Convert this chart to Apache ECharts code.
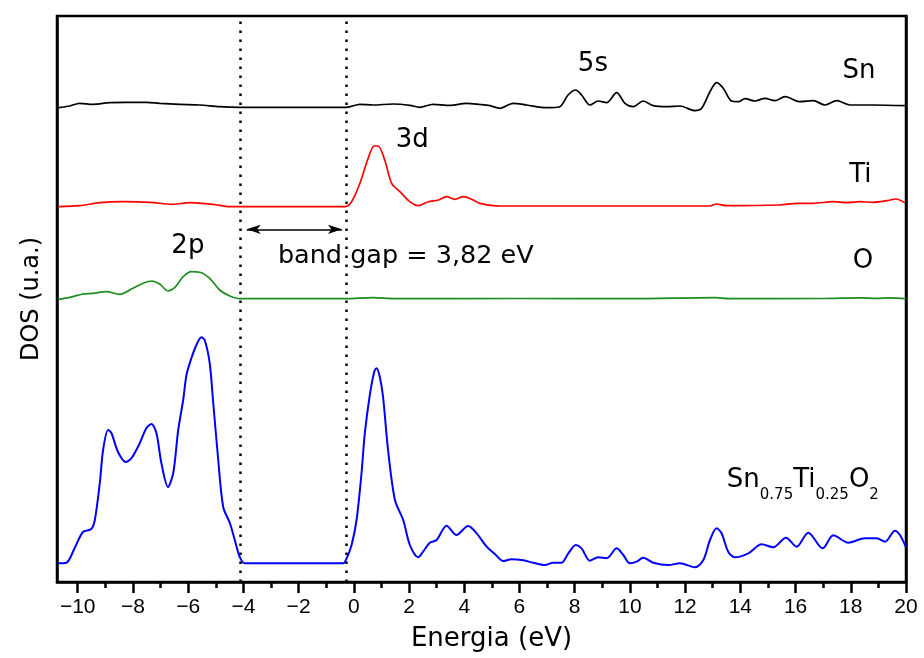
<!DOCTYPE html>
<html>
<head>
<meta charset="utf-8">
<script src="https://cdn.jsdelivr.net/npm/echarts@6/dist/echarts.min.js"></script>
<style>
  html, body { margin: 0; padding: 0; background: #fff; }
  #chart { width: 924px; height: 658px; }
</style>
</head>
<body>
<div id="chart"></div>
<script>
// DOS parcial (Sn, Ti, O) e total de Sn0.75Ti0.25O2 — curvas deslocadas verticalmente
// pontos [energia (eV), DOS (u.a., com deslocamento)]
const dosSn = [[-10.7,474.3],[-10.29,476],[-9.93,478.7],[-9.45,477.7],[-8.84,479.3],[-8.24,479.7],[-7.51,479.7],[-7.03,478.7],[-6.3,477.7],[-5.58,477],[-4.86,475.3],[-4.13,474.7],[-0.26,474.7],[0.22,477.7],[0.7,477],[1.42,478],[2.03,476.7],[2.39,474.7],[2.87,477.7],[3.48,476.7],[4.08,478.7],[4.57,477.5],[4.93,476.3],[5.29,473.7],[5.77,478.7],[6.26,477],[6.98,474.3],[7.46,475.3],[7.76,487],[8.03,492],[8.25,487],[8.55,477],[8.85,481],[9.16,479.3],[9.52,489.3],[9.82,478.7],[10.12,475.3],[10.48,481],[10.85,476.3],[11.33,475.3],[11.81,476],[12.36,471.3],[12.6,473.7],[12.9,490.3],[13.14,499.3],[13.38,493.7],[13.68,481],[13.93,480.3],[14.17,483.3],[14.53,481],[14.89,483.7],[15.25,481.3],[15.62,485.3],[16.16,480.3],[16.64,481.3],[17.07,477],[17.49,481.3],[17.97,477],[18.82,477],[19.96,476.3]]
const dosTi = [[-10.7,375.3],[-9.93,376.3],[-9.2,379.3],[-8.36,380.3],[-7.39,379.7],[-6.55,377.7],[-5.94,379.3],[-5.1,377.7],[-4.49,375.3],[-0.33,375.3],[-0.08,380.3],[0.22,398.7],[0.52,423.7],[0.74,436],[0.88,436],[1.12,422],[1.37,398.7],[1.67,390.3],[2.03,380.3],[2.33,376.3],[2.7,380.3],[3.06,382],[3.36,385.3],[3.66,382.7],[3.96,385.3],[4.32,382],[4.57,378.7],[5.29,376],[12.9,376],[13.14,378],[13.5,376.3],[15.43,377],[16.04,378.7],[16.64,378.7],[17.37,380.3],[17.85,379.3],[18.33,380.3],[18.82,379.7],[19.3,381.3],[19.64,383],[19.96,379.3]]
const dosO = [[-10.7,282.7],[-10.29,284.7],[-9.81,288],[-9.45,288.7],[-8.96,290.3],[-8.48,287.7],[-8.0,293.7],[-7.63,298.7],[-7.33,301],[-7.03,298],[-6.73,291],[-6.49,294.3],[-6.18,305.3],[-5.88,310.3],[-5.58,309.7],[-5.22,303.7],[-4.86,292],[-4.49,286],[-4.13,283.3],[-0.3,283.3],[0.7,284.3],[1.5,283.3],[6,283.5],[10,283.3],[13.1,284.3],[13.6,283.3],[17,283.5],[18.4,284.2],[18.9,283.6],[19.4,284.2],[20,283.3]]
const dosTotal = [[-10.72,18.7],[-10.41,19.3],[-10.11,34],[-9.81,50],[-9.51,53],[-9.38,62],[-9.2,99],[-9.08,132],[-8.9,152],[-8.78,149],[-8.54,130],[-8.26,120],[-8.05,124],[-7.75,139],[-7.51,154],[-7.33,158],[-7.15,149],[-6.97,119],[-6.73,95],[-6.54,109],[-6.36,152],[-6.18,182],[-6.06,207],[-5.88,224],[-5.7,237],[-5.52,244.7],[-5.4,242],[-5.22,219],[-5.1,182],[-4.92,125],[-4.73,75],[-4.49,59],[-4.31,42],[-4.13,25],[-3.95,18.7],[-0.39,18.7],[-0.26,23.7],[-0.08,37],[0.1,62],[0.28,109],[0.4,149],[0.58,187],[0.74,210.3],[0.82,213.7],[0.94,205.3],[1.06,185],[1.24,132],[1.49,82],[1.79,62],[2.03,37],[2.33,24.7],[2.51,30.3],[2.75,39.3],[3.0,42],[3.36,56.3],[3.72,47],[4.14,56],[4.45,48.7],[4.81,35.3],[5.11,28],[5.41,21],[5.71,22.7],[6.08,22],[6.5,19.3],[6.92,17],[7.22,19.3],[7.52,19.3],[7.77,28.7],[8.04,37],[8.25,33.7],[8.55,21.3],[8.85,24.7],[9.16,23.7],[9.52,33.7],[9.76,27],[10.0,18.7],[10.24,20.3],[10.48,24.3],[10.85,19.3],[11.39,17],[11.81,18.7],[12.36,14.7],[12.66,22],[12.9,42],[13.14,53.7],[13.32,48.7],[13.56,30.3],[13.8,24.7],[14.29,28.7],[14.77,37.7],[15.19,34.7],[15.65,44.3],[16.04,35.3],[16.46,49.3],[16.98,33.7],[17.37,46.7],[17.91,39.3],[18.51,43.7],[18.94,43.7],[19.24,40.3],[19.6,51.3],[19.78,47],[20.0,34.7]]

// ticks do eixo x
const majorTicks = [-10, -8, -6, -4, -2, 0, 2, 4, 6, 8, 10, 12, 14, 16, 18, 20]
const minorTicks = [-9, -7, -5, -3, -1, 1, 3, 5, 7, 9, 11, 13, 15, 17, 19]

// gap: topo da banda de valência / fundo da banda de condução
const gapEdges = [-4.13, -0.29]

const X_MIN = -10.75, X_MAX = 20, Y_MAX = 566
const LABEL_FONT = 'DejaVu Sans'

const chart = echarts.init(document.getElementById('chart'), null, { renderer: 'canvas' })

const axisBase = { type: 'value', min: X_MIN, max: X_MAX, splitLine: { show: false } }

function lineSeries(name, data, color, width) {
  return {
    name, type: 'line', data, showSymbol: false, symbol: 'none',
    smooth: 0.3, animation: false,
    lineStyle: { color, width },
  }
}

const series = [
  lineSeries('Sn', dosSn, '#000000', 1.7),
  lineSeries('Ti', dosTi, '#ff0000', 1.7),
  lineSeries('O', dosO, '#1e8c1e', 1.7),
  lineSeries('Sn0.75Ti0.25O2', dosTotal, '#0000ff', 2),
]
// linhas pontilhadas do gap
series[3].markLine = {
  silent: true, symbol: 'none', animation: false,
  label: { show: false },
  lineStyle: { color: '#000', type: [2.5, 6.5], width: 2.5 },
  data: gapEdges.map(v => ({ xAxis: v })),
}
// seta dupla "band gap"
series[1].markLine = {
  silent: true, animation: false,
  symbol: ['arrow', 'arrow'], symbolSize: [7, 14],
  label: { show: false },
  lineStyle: { color: '#000', type: 'solid', width: 1.5 },
  data: [[{ coord: [gapEdges[0] + 0.25, 352.7] }, { coord: [gapEdges[1] - 0.14, 352.7] }]],
}

const frameLine = { show: true, onZero: false, lineStyle: { color: '#000', width: 2.5 } }

chart.setOption({
  backgroundColor: '#fff',
  animation: false,
  grid: { left: 57, right: 18, top: 16, bottom: 76, show: true, borderColor: '#000', borderWidth: 2.5 },
  xAxis: [
    Object.assign({}, axisBase, {
      name: 'Energia (eV)', nameLocation: 'middle', nameGap: 44,
      nameTextStyle: { fontFamily: LABEL_FONT, fontSize: 26, color: '#000', padding: [0, 0, 0, 20] },
      axisLine: frameLine,
      axisTick: { show: true, customValues: majorTicks, length: 11, lineStyle: { color: '#000', width: 2.5 } },
      axisLabel: {
        customValues: majorTicks, margin: 15,
        fontFamily: 'Liberation Sans', fontSize: 21, color: '#000',
        formatter: v => (v < 0 ? '\u2212' + (-v) : String(v)),
      },
    }),
    Object.assign({}, axisBase, {
      position: 'bottom',
      axisLine: { show: false, onZero: false },
      axisTick: { show: true, customValues: minorTicks, length: 6, lineStyle: { color: '#000', width: 2.5 } },
      axisLabel: { show: false },
    }),
  ],
  yAxis: [
    {
      type: 'value', min: 0, max: Y_MAX, position: 'left',
      name: 'DOS (u.a.)', nameLocation: 'middle', nameGap: 13, nameRotate: 90,
      nameTextStyle: { fontFamily: LABEL_FONT, fontSize: 24, color: '#000' },
      axisLine: frameLine,
      axisTick: { show: false }, axisLabel: { show: false }, splitLine: { show: false },
    },
    {
      type: 'value', min: 0, max: Y_MAX, position: 'right',
      axisLine: frameLine,
      axisTick: { show: false }, axisLabel: { show: false }, splitLine: { show: false },
    },
  ],
  series,
})

// anotações (em coordenadas de dados)
const notes = [
  { text: 'Sn', at: [18.3, 510.5] },
  { text: '5s', at: [8.66, 518] },
  { text: 'Ti', at: [18.35, 407] },
  { text: '3d', at: [2.12, 442] },
  { text: 'O', at: [18.44, 321] },
  { text: '2p', at: [-6.01, 335.5] },
  { text: 'band gap = 3,82 eV', at: [-2.75, 326], align: 'left', size: 25.5 },
]
const graphic = notes.map(n => {
  const [x, y] = chart.convertToPixel({ gridIndex: 0 }, n.at)
  return {
    type: 'text', x, y, silent: true,
    style: {
      text: n.text, fill: '#000',
      font: (n.size || 26) + 'px "' + LABEL_FONT + '"',
      align: n.align || 'center', verticalAlign: 'middle',
    },
  }
})
const [fx, fy] = chart.convertToPixel({ gridIndex: 0 }, [13.51, 107.5])
graphic.push({
  type: 'text', x: fx, y: fy + 6, silent: true,
  style: {
    text: '{m|Sn}{s|0.75}{m|Ti}{s|0.25}{m|O}{s|2}',
    align: 'left', verticalAlign: 'middle',
    rich: {
      m: { fontFamily: LABEL_FONT, fontSize: 26, lineHeight: 44, verticalAlign: 'middle', fill: '#000' },
      s: { fontFamily: LABEL_FONT, fontSize: 15, lineHeight: 18, verticalAlign: 'bottom', fill: '#000' },
    },
  },
})
chart.setOption({ graphic })
</script>
</body>
</html>
